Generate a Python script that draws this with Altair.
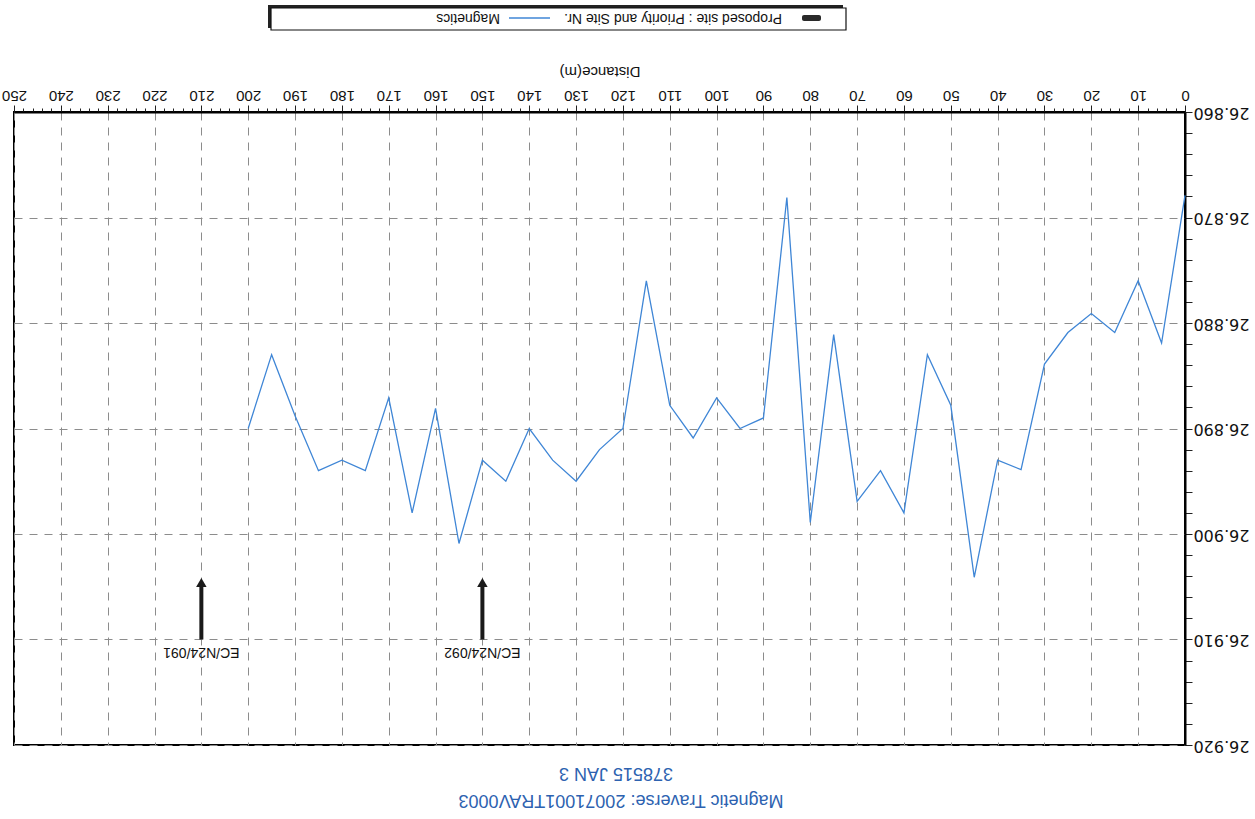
import altair as alt
import pandas as pd

# ---- data ----
distance = list(range(0, 201, 5))
magnetics = [26.8679, 26.8819, 26.8760, 26.8809, 26.8791, 26.8809, 26.8839, 26.8939,
             26.8930, 26.9041, 26.8878, 26.8830, 26.8980, 26.8940, 26.8969, 26.8811,
             26.8989, 26.8681, 26.8890, 26.8900, 26.8871, 26.8909, 26.8878, 26.8760,
             26.8900, 26.8920, 26.8950, 26.8930, 26.8900, 26.8950, 26.8930, 26.9009,
             26.8881, 26.8980, 26.8871, 26.8940, 26.8930, 26.8940, 26.8888, 26.8830,
             26.8900]

site_distance = [150, 210]
site_labels = ["EC/N24/092", "EC/N24/091"]
arrow_base = [26.9100, 26.9100]
arrow_shaft_top = [26.9048, 26.9048]
arrow_head = [26.9046, 26.9046]
label_level = [26.9112, 26.9112]

x_ticks = list(range(0, 251, 2))
y_ticks = [round(26.860 + i * 0.002, 3) for i in range(31)]

title_line1 = "Magnetic Traverse:  20071001TRAV0003"
title_line2 = "378515 JAN 3"
x_title = "Distance(m)"
legend_site = "Proposed site : Priority and Site Nr."
legend_mag = "Magnetics"

W, H = 1171, 633
FONT = "Liberation Sans"
BLUE_TEXT = "#2d62b0"
LINE_BLUE = "#3f86d6"

df = pd.DataFrame({"distance": distance, "magnetics": magnetics})
sites = pd.DataFrame({"distance": site_distance, "label": site_labels,
                      "base": arrow_base, "top": arrow_shaft_top,
                      "head": arrow_head, "lab": label_level})
one = pd.DataFrame({"k": [0]})

xscale = alt.Scale(domain=[0, 250], reverse=True, nice=False, zero=False)
yscale = alt.Scale(domain=[26.86, 26.92], reverse=True, nice=False, zero=False)

x_axis = alt.Axis(
    orient="top", values=x_ticks, tickCount=500, title=None,
    labelExpr="datum.value % 10 === 0 ? format(datum.value, 'd') : ''",
    tickSize={"condition": {"test": "datum.value % 10 === 0", "value": 7}, "value": 4},
    grid=True,
    gridOpacity={"condition": {"test": "datum.value % 10 === 0", "value": 1}, "value": 0},
    gridDash=[8, 7], gridColor="#8c8c8c", gridWidth=1,
    labelAngle=180, labelAlign="center", labelBaseline="top",
    labelFontSize=15, labelFont=FONT, labelColor="#111", labelPadding=3,
    labelFlush=False, labelOverlap=False,
    domainColor="black", domainWidth=2, tickColor="#222", tickWidth=1,
)
y_axis = alt.Axis(
    orient="right", values=y_ticks, tickCount=500, title=None,
    labelExpr="round(datum.value * 1000) % 10 === 0 ? format(datum.value, '.3f') : ''",
    tickSize=7, grid=True,
    gridOpacity={"condition": {"test": "round(datum.value * 1000) % 10 === 0", "value": 1}, "value": 0},
    gridDash=[8, 7], gridColor="#8c8c8c", gridWidth=1,
    labelAngle=180, labelAlign="right", labelBaseline="middle",
    labelFontSize=16, labelFont="DejaVu Sans", labelColor="#111", labelPadding=1,
    labelFlush=False, labelOverlap=False,
    domainColor="black", domainWidth=2, tickColor="#222", tickWidth=1,
)

line = alt.Chart(df).mark_line(color=LINE_BLUE, strokeWidth=1.3).encode(
    x=alt.X("distance:Q", scale=xscale, axis=x_axis),
    y=alt.Y("magnetics:Q", scale=yscale, axis=y_axis),
)

shaft = alt.Chart(sites).mark_rule(color="#1a1a1a", strokeWidth=4).encode(
    x=alt.X("distance:Q", scale=xscale),
    y=alt.Y("base:Q", scale=yscale),
    y2="top:Q",
)
head = alt.Chart(sites).mark_point(shape="triangle-up", filled=True, color="#1a1a1a",
                                    opacity=1, size=110).encode(
    x=alt.X("distance:Q", scale=xscale),
    y=alt.Y("head:Q", scale=yscale),
)
site_text = alt.Chart(sites).mark_text(angle=180, align="center", baseline="middle",
                                       font=FONT, fontSize=14, color="#111").encode(
    x=alt.X("distance:Q", scale=xscale),
    y=alt.Y("lab:Q", scale=yscale),
    text="label:N",
)

# x-axis title (upside-down, as in the scan)
xtitle = alt.Chart(one).mark_text(angle=180, align="center", baseline="middle",
                                  font=FONT, fontSize=15, color="#111").encode(
    x=alt.value(586), y=alt.value(-40), text=alt.value(x_title))

# bottom titles
t1 = alt.Chart(one).mark_text(angle=180, align="center", baseline="middle",
                              font=FONT, fontSize=18, color=BLUE_TEXT).encode(
    x=alt.value(607), y=alt.value(688), text=alt.value(title_line1))
t2 = alt.Chart(one).mark_text(angle=180, align="center", baseline="middle",
                              font=FONT, fontSize=18, color=BLUE_TEXT).encode(
    x=alt.value(602), y=alt.value(661), text=alt.value(title_line2))

# legend box
leg_shadow = alt.Chart(one).mark_rect(color="#222").encode(
    x=alt.value(254), x2=alt.value(829), y=alt.value(-107), y2=alt.value(-84))
leg_box = alt.Chart(one).mark_rect(fill="white", stroke="#111", strokeWidth=1.2).encode(
    x=alt.value(257), x2=alt.value(832), y=alt.value(-104), y2=alt.value(-82))
leg_sym = alt.Chart(one).mark_rect(color="#2a2a2a", cornerRadius=2).encode(
    x=alt.value(788), x2=alt.value(807), y=alt.value(-97), y2=alt.value(-91))
leg_txt1 = alt.Chart(one).mark_text(angle=180, align="left", baseline="middle",
                                    font=FONT, fontSize=14, color="#111").encode(
    x=alt.value(768), y=alt.value(-94), text=alt.value(legend_site))
leg_line = alt.Chart(one).mark_rule(color=LINE_BLUE, strokeWidth=1.3).encode(
    x=alt.value(495), x2=alt.value(536), y=alt.value(-94))
leg_txt2 = alt.Chart(one).mark_text(angle=180, align="left", baseline="middle",
                                    font=FONT, fontSize=14, color="#111").encode(
    x=alt.value(486), y=alt.value(-94), text=alt.value(legend_mag))

chart = alt.layer(
    line, shaft, head, site_text, xtitle, t1, t2,
    leg_shadow, leg_box, leg_sym, leg_txt1, leg_line, leg_txt2,
).properties(
    width=W, height=H,
    padding={"left": 14, "top": 112, "right": 70, "bottom": 74},
    autosize=alt.AutoSizeParams(type="none"),
    background="white",
).configure_view(stroke="black", strokeWidth=2)

chart.save("out.html", embed_options={"renderer": "svg", "actions": False})
